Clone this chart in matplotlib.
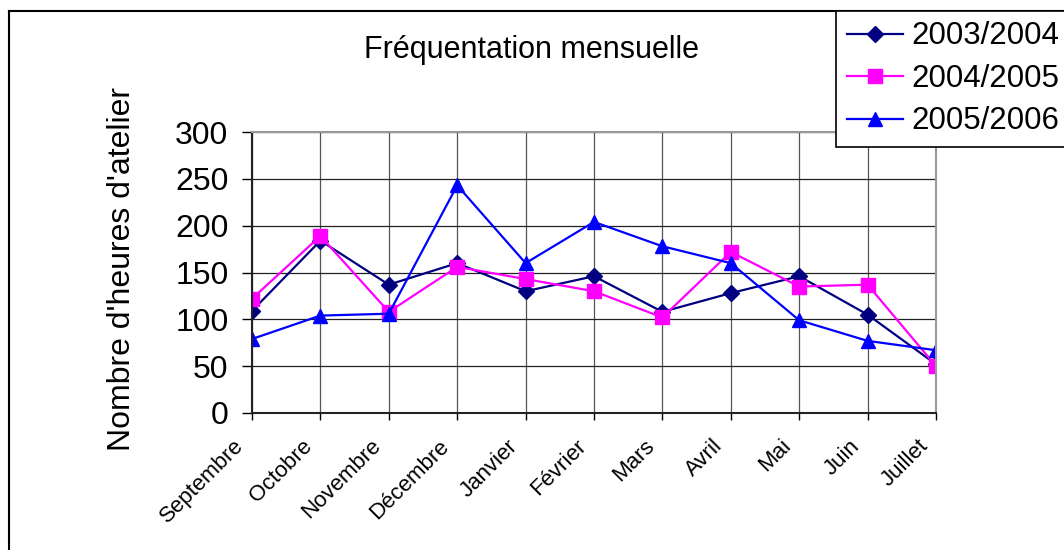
import matplotlib
matplotlib.use("Agg")
import matplotlib.pyplot as plt
from matplotlib.lines import Line2D
from matplotlib.transforms import ScaledTranslation

plt.rcParams['font.family'] = ['Liberation Sans', 'DejaVu Sans']

mois = ["Septembre", "Octobre", "Novembre", "Décembre", "Janvier", "Février",
        "Mars", "Avril", "Mai", "Juin", "Juillet"]
s2003 = [109, 184, 137, 160, 130, 146, 108, 128, 146, 105, 52]
s2004 = [122, 189, 108, 156, 143, 130, 102, 172, 135, 137, 50]
s2005 = [79, 104, 106, 243, 160, 204, 178, 160, 99, 77, 67]
annees = ["2003/2004", "2004/2005", "2005/2006"]

W, H = 1064, 550
fig = plt.figure(figsize=(W / 100, H / 100), dpi=100)
ax = fig.add_axes([252 / W, 1 - 413 / H, (936 - 252) / W, (413 - 132) / H])

x = list(range(len(mois)))
ax.plot(x, s2003, color='#000080', marker='D', markersize=8.5, lw=1.6, label=annees[0])
ax.plot(x, s2004, color='#FF00FF', marker='s', markersize=9.5, lw=1.6, label=annees[1])
ax.plot(x, s2005, color='#0000FF', marker='^', markersize=10.5, lw=1.6, label=annees[2])

ax.set_xlim(0, len(mois) - 1)
ax.set_ylim(0, 300)
ax.set_yticks(range(0, 301, 50))
ax.set_xticks(x)
ax.tick_params(axis='x', labelbottom=False, length=5, width=1)
ax.tick_params(axis='y', labelsize=23, length=7, width=1, pad=10)

# étiquettes des mois, inclinées, un peu à gauche de la graduation
decal = ax.get_xaxis_transform() + ScaledTranslation(-0.11, -0.30, fig.dpi_scale_trans)
for i, m in enumerate(mois):
    ax.text(i, 0, m, transform=decal, rotation=45, ha='right', va='center',
            rotation_mode='anchor', fontsize=16)

ax.grid(True, color='#222222', lw=0.9)
ax.xaxis.grid(True, color='#555555', lw=0.9)
ax.set_axisbelow(True)
for s in ['top', 'right']:
    ax.spines[s].set_color('#999999')
    ax.spines[s].set_linewidth(1.5)
for s in ['left', 'bottom']:
    ax.spines[s].set_color('#222222')
    ax.spines[s].set_linewidth(1.5)

fig.text(531 / W, 1 - 50 / H, "Fréquentation mensuelle", ha='center', va='center', fontsize=22)
fig.text(122 / W, 1 - 269 / H, "Nombre d'heures d'atelier", ha='center', va='center',
         rotation=90, fontsize=23)

# cadre du graphique
x0, y0 = 8.5 / W, 1 - 10.5 / H
fig.add_artist(Line2D([x0, x0], [0, y0], color='black', lw=1.5))
fig.add_artist(Line2D([x0, 1], [y0, y0], color='black', lw=1.5))

leg = fig.legend(loc='upper left', bbox_to_anchor=(836 / W, y0), borderaxespad=0,
                 fontsize=22.5, handlelength=1.8, handletextpad=0.25, labelspacing=0.4,
                 borderpad=0.35, fancybox=False, framealpha=1, edgecolor='black')
leg.get_frame().set_linewidth(1.2)

fig.savefig("out.png", dpi=100)
